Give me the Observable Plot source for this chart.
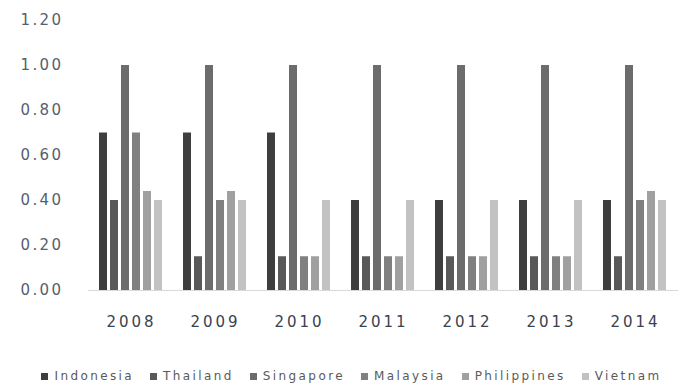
<!DOCTYPE html>
<html>
<head>
<meta charset="utf-8">
<script src="https://cdn.jsdelivr.net/npm/d3@7"></script>
<script src="https://cdn.jsdelivr.net/npm/@observablehq/plot@0.6"></script>
<style>
  html, body { margin: 0; padding: 0; background: #fff; }
  #chart { width: 679px; height: 387px; position: relative; overflow: hidden; }
  #legend {
    position: absolute; left: 12px; top: 369px; width: 679px;
    display: flex; justify-content: center; gap: 16px;
    font-family: "DejaVu Sans", sans-serif; font-size: 12px; letter-spacing: 2.4px;
    color: #5a5a5a;
  }
  #legend .item { display: flex; align-items: center; gap: 6px; }
  #legend .sw { width: 7px; height: 7px; display: inline-block; }
</style>
</head>
<body>
<div id="chart"></div>
<script>
// Annual index values per country, 2008–2014
const years = ["2008", "2009", "2010", "2011", "2012", "2013", "2014"];
const countries = ["Indonesia", "Thailand", "Singapore", "Malaysia", "Philippines", "Vietnam"];
const indonesia   = [0.70, 0.70, 0.70, 0.40, 0.40, 0.40, 0.40];
const thailand    = [0.40, 0.15, 0.15, 0.15, 0.15, 0.15, 0.15];
const singapore   = [1.00, 1.00, 1.00, 1.00, 1.00, 1.00, 1.00];
const malaysia    = [0.70, 0.40, 0.15, 0.15, 0.15, 0.15, 0.40];
const philippines = [0.44, 0.44, 0.15, 0.15, 0.15, 0.15, 0.44];
const vietnam     = [0.40, 0.40, 0.40, 0.40, 0.40, 0.40, 0.40];
const yTicks = [0, 0.2, 0.4, 0.6, 0.8, 1.0, 1.2];
const colors = ["#3e3e3e", "#595959", "#6c6c6c", "#808080", "#a0a0a0", "#c2c2c2"];

const series = [indonesia, thailand, singapore, malaysia, philippines, vietnam];
const rows = [];
years.forEach((year, i) => {
  countries.forEach((country, j) => {
    rows.push({year, country, value: series[j][i]});
  });
});

const chart = Plot.plot({
  width: 679,
  height: 350,
  marginTop: 20,
  marginBottom: 60,
  marginLeft: 91,
  marginRight: 4,
  style: {fontFamily: "DejaVu Sans, sans-serif", background: "#fff"},
  facet: {data: rows, x: "year"},
  fx: {
    domain: years,
    paddingInner: 0.17,
    paddingOuter: 0.05,
    label: null,
    tickSize: 0,
    tickPadding: 26
  },
  x: {domain: countries, padding: 0.25, axis: null},
  y: {
    domain: [0, 1.2],
    ticks: yTicks,
    tickFormat: d3.format(".2f"),
    tickSize: 0,
    tickPadding: 33,
    label: null
  },
  color: {domain: countries, range: colors},
  marks: [
    Plot.barY(rows, {x: "country", y: "value", fill: "country"})
  ]
});

// baseline running across all year groups
const svg = d3.select(chart);
const y0 = chart.scale("y").apply(0);
svg.append("line")
  .attr("x1", 88).attr("x2", 678)
  .attr("y1", y0 + 0.5).attr("y2", y0 + 0.5)
  .attr("stroke", "#d9d9d9").attr("stroke-width", 1.2);

// tick label styling
svg.selectAll("[aria-label='y-axis tick label'] text, [aria-label='y-axis'] text")
  .attr("font-size", 15).attr("fill", "#55606e").style("letter-spacing", "2.4px");
svg.selectAll("[aria-label='fx-axis tick label'] text, [aria-label='fx-axis'] text")
  .attr("font-size", 15).attr("fill", "#3a4250").style("letter-spacing", "3px");

const root = document.getElementById("chart");
root.appendChild(chart);

// legend row built from the colour scale
const legend = d3.select(root).append("div").attr("id", "legend");
const color = chart.scale("color");
countries.forEach((c, i) => {
  const item = legend.append("div").attr("class", "item");
  item.append("span").attr("class", "sw").style("background", color.range[i]);
  item.append("span").text(c);
});
</script>
</body>
</html>
